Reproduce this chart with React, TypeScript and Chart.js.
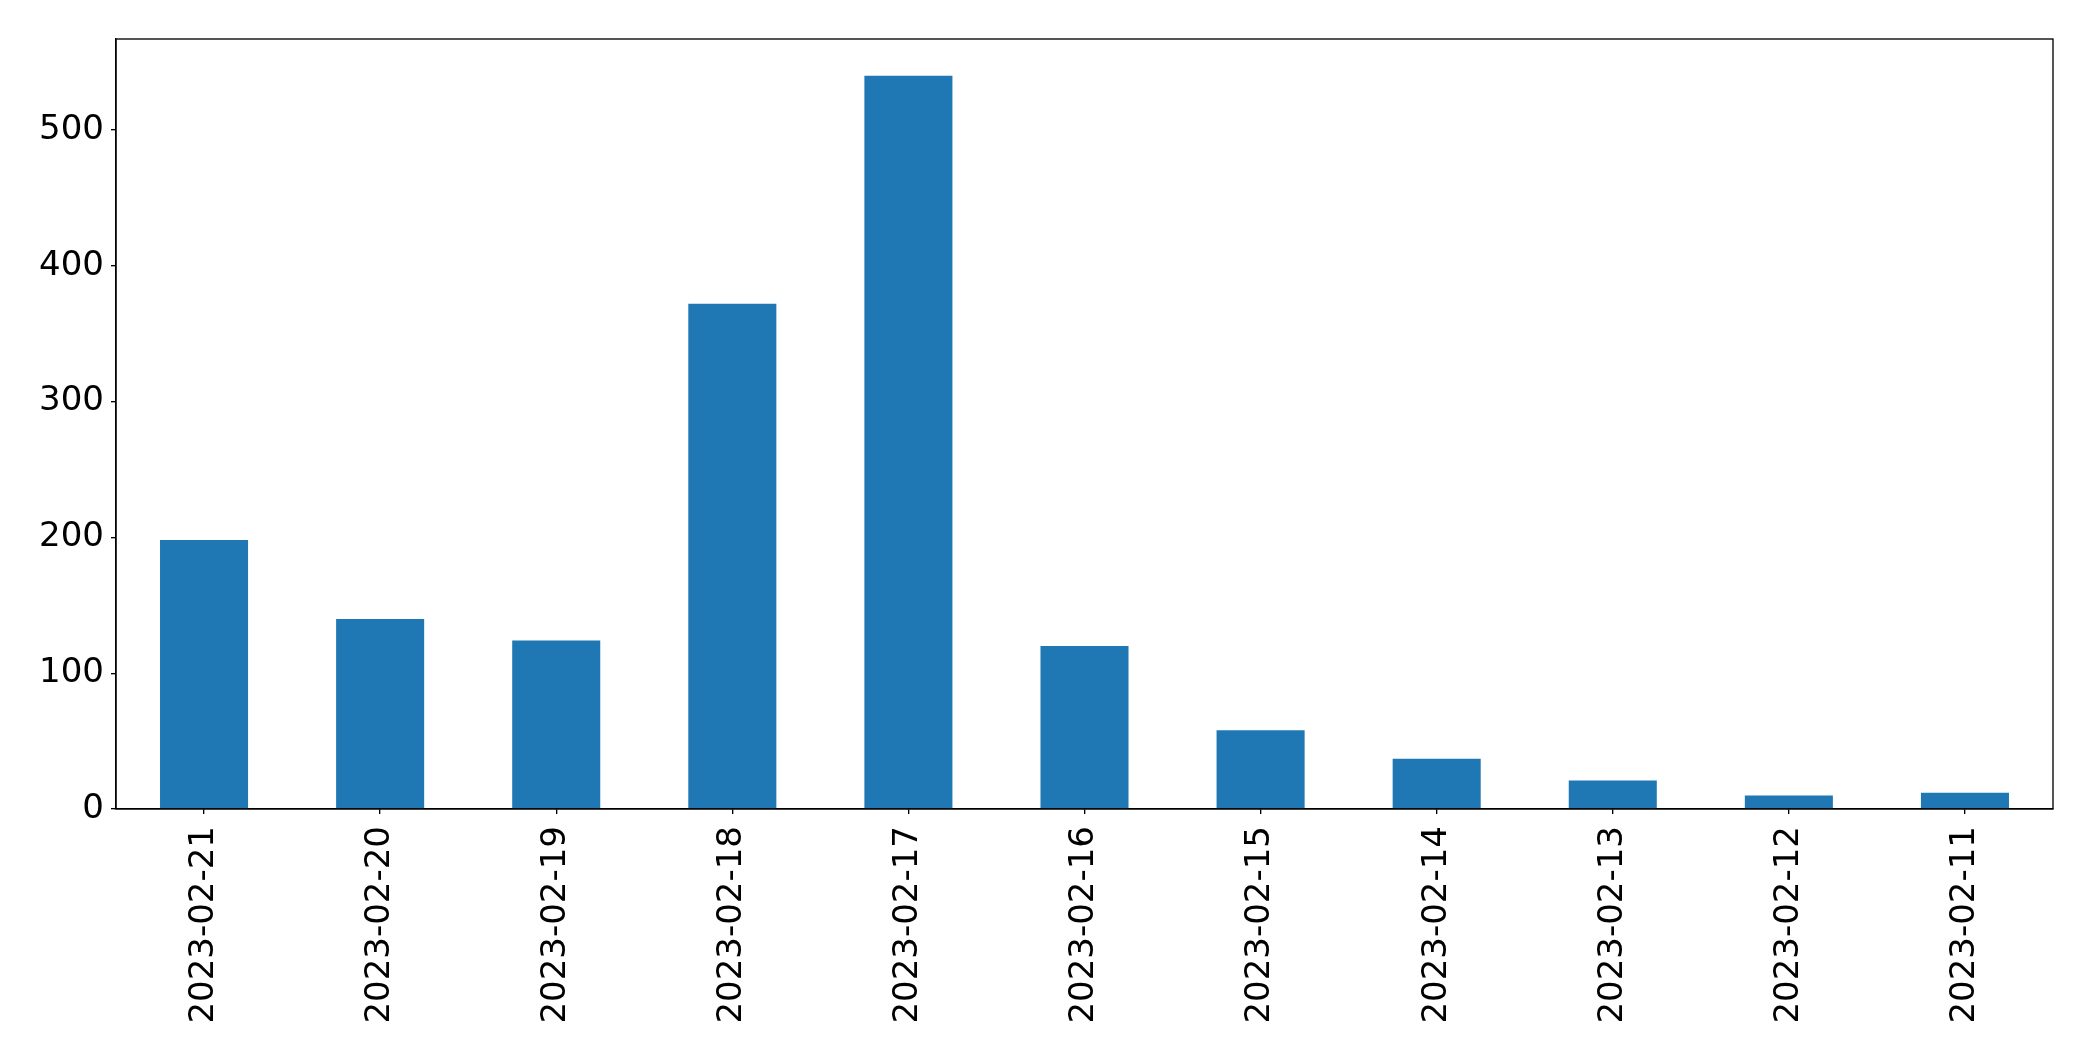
import React, { useEffect, useRef } from "react";
import { Chart, registerables } from "chart.js";

Chart.register(...registerables);

const categories = [
  "2023-02-21",
  "2023-02-20",
  "2023-02-19",
  "2023-02-18",
  "2023-02-17",
  "2023-02-16",
  "2023-02-15",
  "2023-02-14",
  "2023-02-13",
  "2023-02-12",
  "2023-02-11",
];
const counts = [198, 140, 124, 372, 540, 120, 58, 37, 21, 10, 12];
const yTickStep = 100;

const W = 2093;
const H = 1061;
const FONT = { family: "'DejaVu Sans', sans-serif", size: 34 };

const frame = {
  id: "frame",
  afterDraw(chart: any) {
    const { ctx, chartArea } = chart;
    ctx.save();
    ctx.strokeStyle = "#000";
    ctx.lineWidth = 1.33;
    ctx.strokeRect(chartArea.left, chartArea.top, chartArea.right - chartArea.left, chartArea.bottom - chartArea.top);
    ctx.restore();
  },
};

export default function App() {
  const ref = useRef<HTMLCanvasElement>(null);
  useEffect(() => {
    document.body.style.margin = "0";
    const ymax = Math.max(...counts) * 1.05;
    const chart = new Chart(ref.current as HTMLCanvasElement, {
      type: "bar",
      data: {
        labels: categories,
        datasets: [
          {
            data: counts,
            backgroundColor: "#1f77b4",
            borderWidth: 0,
            categoryPercentage: 1,
            barPercentage: 0.5,
          },
        ],
      },
      plugins: [frame],
      options: {
        animation: false,
        responsive: false,
        devicePixelRatio: 1,
        layout: { padding: { top: 39, right: 40, left: 0, bottom: 0 } },
        plugins: { legend: { display: false }, tooltip: { enabled: false } },
        scales: {
          x: {
            offset: true,
            grid: { display: true, drawOnChartArea: false, drawTicks: true, tickLength: 5, color: "#000", lineWidth: 1.33, offset: false },
            border: { display: true, color: "#000", width: 1.33 },
            ticks: { color: "#000", font: FONT, minRotation: 90, maxRotation: 90, autoSkip: false, padding: 12 },
            afterFit: (s: any) => {
              s.height = H - 809;
            },
          },
          y: {
            min: 0,
            max: ymax,
            grid: { display: true, drawOnChartArea: false, drawTicks: true, tickLength: 5, color: "#000", lineWidth: 1.33 },
            border: { display: true, color: "#000", width: 1.33 },
            ticks: { color: "#000", font: FONT, stepSize: yTickStep, padding: 7 },
            afterBuildTicks: (s: any) => {
              s.ticks = s.ticks.filter((t: any) => t.value % yTickStep === 0);
            },
            afterFit: (s: any) => {
              s.width = 116;
            },
          },
        },
      },
    });
    return () => chart.destroy();
  }, []);
  return <canvas ref={ref} width={W} height={H} style={{ display: "block", width: W, height: H }} />;
}
